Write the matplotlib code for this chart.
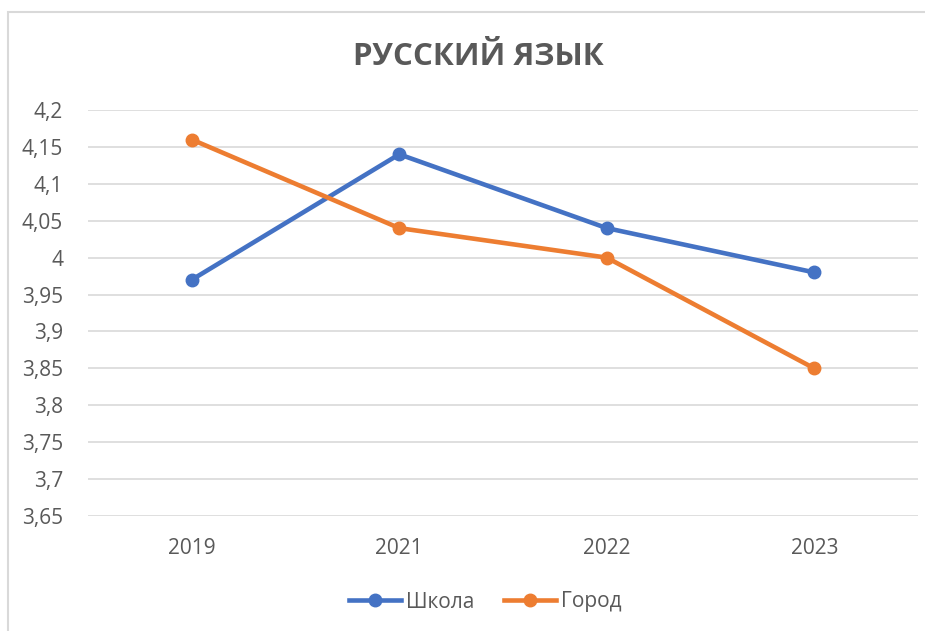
import matplotlib.pyplot as plt
from matplotlib.patches import Rectangle
from matplotlib.ticker import FuncFormatter

years = ['2019', '2021', '2022', '2023']
school = [3.97, 4.14, 4.04, 3.98]
city = [4.16, 4.04, 4.00, 3.85]
y_ticks = [3.65, 3.7, 3.75, 3.8, 3.85, 3.9, 3.95, 4.0, 4.05, 4.1, 4.15, 4.2]

plt.rcParams['font.family'] = ['Open Sans', 'DejaVu Sans']
text_color = '#595959'

fig = plt.figure(figsize=(9.25, 6.31), dpi=100)
ax = fig.add_axes([88 / 925, 1 - 516 / 631, (918 - 88) / 925, (516 - 110) / 631])

# chart border (runs off the right and bottom edges)
fig.patches.append(Rectangle((8 / 925, -0.05), 1.2, 1 - 12 / 631 + 0.05,
                             transform=fig.transFigure, fill=False,
                             edgecolor='#D9D9D9', linewidth=1.5))

x = range(len(years))
ax.plot(x, school, color='#4472C4', linewidth=3.3, marker='o', markersize=9, label='Школа')
ax.plot(x, city, color='#ED7D31', linewidth=3.3, marker='o', markersize=9, label='Город')

ax.set_xlim(-0.5, len(years) - 0.5)
ax.set_ylim(3.65, 4.2)
ax.set_yticks(y_ticks)
ax.yaxis.set_major_formatter(FuncFormatter(lambda v, p: f'{v:g}'.replace('.', ',')))
ax.set_xticks(list(x))
ax.set_xticklabels(years)
ax.grid(axis='y', color='#D9D9D9', linewidth=1.2)
ax.set_axisbelow(True)
for s in ax.spines.values():
    s.set_visible(False)
ax.tick_params(length=0, labelsize=15, colors=text_color)
ax.tick_params(axis='y', pad=18)
ax.tick_params(axis='x', pad=16)

fig.text(0.517, 1 - 57 / 631, 'РУССКИЙ ЯЗЫК', ha='center', va='center',
         fontsize=22.5, fontweight='bold', color=text_color)

leg = fig.legend(loc='center', bbox_to_anchor=(485 / 925, 1 - 602 / 631), ncol=2,
                 frameon=False, fontsize=15, handlelength=2.5, columnspacing=1.4,
                 handletextpad=0.25)
for t in leg.get_texts():
    t.set_color(text_color)

fig.savefig('out.png', dpi=100)
